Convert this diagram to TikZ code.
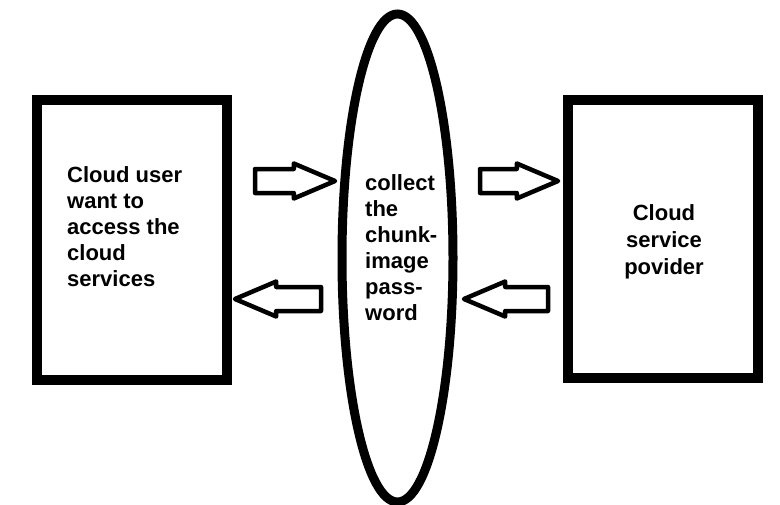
\documentclass[tikz,border=0pt]{standalone}
\usepackage{fontspec}
\setmainfont{Liberation Sans}
\usetikzlibrary{shapes.geometric, shapes.arrows}

\begin{document}
\begin{tikzpicture}[x=1pt, y=-1pt,
    box/.style={draw, line width=10pt, minimum width=190pt, minimum height=280pt, inner sep=0pt},
    oval/.style={draw, ellipse, line width=9pt, minimum width=111pt, minimum height=488pt, inner sep=0pt},
    blockarrow/.style={draw, single arrow, anchor=tip, line width=4.5pt, line join=round,
      inner xsep=0pt, inner ysep=9.75pt, outer sep=0pt, single arrow head extend=5.5pt,
      single arrow tip angle=46, minimum width=0pt},
    lbl/.style={font=\bfseries\fontsize{22}{26}\selectfont, inner sep=0pt, align=left}]
    \useasboundingbox (0,0) rectangle (780,504);
    \clip (0,0) rectangle (780,504);
    % boxes and the oval
    \node[box] (user) at (132,240) {};
    \node[box, minimum height=278pt] (provider) at (663,239) {};
    \node[oval] (collect) at (397.5,258) {};
    % texts (placed by the baseline of their last line)
    \node[lbl, anchor=base west] (usertext) at (67,286) {Cloud user\\want to\\access the\\cloud\\services};
    \node[lbl, anchor=base west] (collecttext) at (365,320) {collect\\the\\chunk-\\image\\pass-\\word};
    \node[lbl, align=center, anchor=base, font=\bfseries\fontsize{22}{27}\selectfont] (providertext) at (664,274) {Cloud\\service\\povider};
    % arrows towards the provider (placed by their tips)
    \node[blockarrow, minimum height=80pt] (a1) at (335,181) {};
    \node[blockarrow, minimum height=78pt] (a3) at (558,181) {};
    % arrows back to the user
    \node[blockarrow, minimum height=86pt, rotate=180] (a2) at (235,299) {};
    \node[blockarrow, minimum height=84pt, rotate=180] (a4) at (464,299) {};
\end{tikzpicture}
\end{document}
